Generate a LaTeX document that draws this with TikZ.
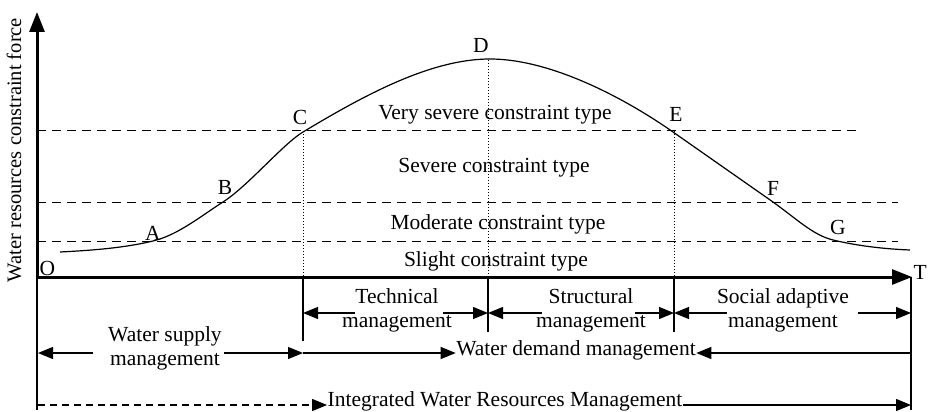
\documentclass[tikz,border=0pt]{standalone}
\usepackage{fontspec}
\setmainfont{Liberation Serif}
\usetikzlibrary{arrows.meta}
\tikzset{
    axis/.style={line width=3pt},
    level/.style={dashed,dash pattern=on 9pt off 6pt,line width=1pt},
    guide/.style={dotted,line width=1pt},
    band/.style={font=\fontsize{21.5}{24}\selectfont,inner sep=0pt},
    pt/.style={font=\fontsize{21.5}{24}\selectfont,inner sep=0pt},
    span/.style={align=center,font=\fontsize{21.5}{24}\selectfont,inner sep=0pt},
}
\begin{document}
\begin{tikzpicture}[x=1pt,y=-1pt,line width=1.2pt,>={Triangle[length=15pt,width=12pt]}]
    \useasboundingbox[fill=white] (0,0) rectangle (929,412);
    % axes
    \coordinate (O) at (37,277);
    \coordinate (T) at (912,277);
    \coordinate (top) at (37,12);
    \coordinate (xC) at (303,277);
    \coordinate (xD) at (488,277);
    \coordinate (xE) at (674,277);
    \coordinate (xR) at (911,277);
    \draw[axis,->,>={Triangle[length=20pt,width=15pt]}] (O) -- (top);
    \draw[axis,->,>={Triangle[length=20pt,width=15pt]}] (O) -- (T);
    \draw (O) -- (37,410);
    \draw (xR) -- (911,410);
    \node[pt,anchor=west] at (39,268) {O};
    \node[pt,anchor=west] at (913,272) {T};
    \node[band,font=\fontsize{20.5}{24}\selectfont,rotate=90] (force) at (14,150) {Water resources constraint force};
    % constraint levels
    \draw[level] (37,130) -- (860,130);
    \draw[level] (37,202) -- (898,202);
    \draw[level] (37,241) -- (898,241);
    \node[band] (vsev) at (495,115) {Very severe constraint type};
    \node[band] (sev) at (494,168) {Severe constraint type};
    \node[band] (mod) at (498,224) {Moderate constraint type};
    \node[band] (sli) at (496,261) {Slight constraint type};
    % curve
    \draw (60,252) .. controls (100,250) and (128,247) .. (153,241)
        .. controls (178,235) and (201,216) .. (223,202)
        .. controls (248,186) and (283,144) .. (303,132)
        .. controls (363,96) and (430,59) .. (490,59)
        .. controls (550,59) and (623,97) .. (673,132)
        .. controls (703,153) and (743,181) .. (773,202)
        .. controls (798,220) and (813,235) .. (833,240)
        .. controls (858,246) and (885,249) .. (910,250);
    \node[pt] (A) at (153,233) {A};
    \node[pt] (B) at (225,187) {B};
    \node[pt] (C) at (300,117) {C};
    \node[pt] (D) at (481,45) {D};
    \node[pt] (E) at (676,114) {E};
    \node[pt] (F) at (773,188) {F};
    \node[pt] (G) at (838,227) {G};
    \draw[guide] (303,131) -- (xC);
    \draw[guide] (488,60) -- (xD);
    \draw[guide] (674,131) -- (xE);
    \draw (xC) -- (303,341);
    \draw (xD) -- (488,332);
    \draw (xE) -- (674,332);
    % management periods
    \node[span] (tech) at (397,310) {Technical\\management};
    \node[span] (stru) at (591,310) {Structural\\management};
    \node[span] (soci) at (783,310) {Social adaptive\\management};
    \node[span] (supp) at (165,348) {Water supply\\management};
    \node[span] (dem) at (576,350) {Water demand management};
    \node[span] (iwrm) at (505,401) {Integrated Water Resources Management};
    \draw[->] (355,313) -- (303,313);
    \draw[->] (443,313) -- (488,313);
    \draw[->] (542,313) -- (488,313);
    \draw[->] (635,313) -- (674,313);
    \draw[->] (727,313) -- (674,313);
    \draw[->] (858,313) -- (911,313);
    \draw[->] (93,353) -- (38,353);
    \draw[->] (224,353) -- (303,353);
    \draw[->] (303,353) -- (dem.west |- 0,353);
    \draw[->] (911,353) -- (dem.east |- 0,353);
    \draw[->,dashed,dash pattern=on 7pt off 5pt] (38,405) -- (iwrm.west |- 0,405);
    \draw[->] (iwrm.east |- 0,405) -- (911,405);
\end{tikzpicture}
\end{document}
